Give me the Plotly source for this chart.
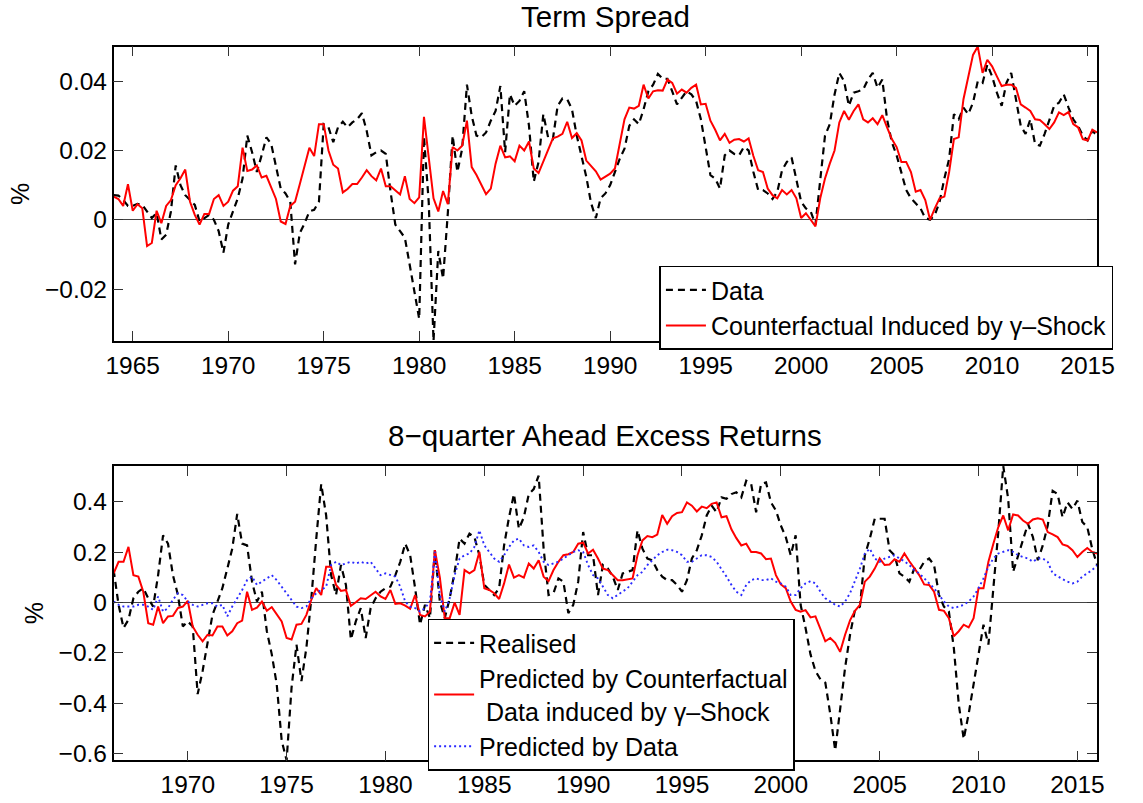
import numpy as np
import plotly.graph_objects as go

# ---------------- Term spread (quarterly, 1964Q1 - 2015Q3) ----------------
ts_start = 1964.0
term_spread_data = [
    0.0071, 0.0070, 0.0057, 0.0040,   # 1964
    0.0040, 0.0046, 0.0043, 0.0024,   # 1965
    0.0005, 0.0020, -0.0057, -0.0043, # 1966
    0.0024, 0.0157, 0.0100, 0.0071,   # 1967
    0.0057, 0.0043, -0.0005, 0.0005,  # 1968
    0.0014, 0.0000, -0.0033, -0.0095, # 1969
    -0.0014, 0.0024, 0.0062, 0.0119,  # 1970
    0.0243, 0.0195, 0.0138, 0.0186,   # 1971
    0.0238, 0.0219, 0.0157, 0.0090,   # 1972
    0.0076, 0.0052, -0.0129, -0.0038, # 1973
    -0.0010, 0.0024, 0.0029, 0.0052,  # 1974
    0.0276, 0.0267, 0.0224, 0.0267,   # 1975
    0.0283, 0.0267, 0.0281, 0.0290,   # 1976
    0.0308, 0.0257, 0.0186, 0.0195,   # 1977
    0.0200, 0.0190, 0.0081, -0.0014,  # 1978
    -0.0033, -0.0052, -0.0129, -0.0214, # 1979
    -0.0286, 0.0240, 0.0050, -0.0350, # 1980
    -0.0090, -0.0170, 0.0020, 0.0243, # 1981
    0.0138, 0.0205, 0.0390, 0.0300,   # 1982
    0.0243, 0.0238, 0.0252, 0.0286,   # 1983
    0.0314, 0.0386, 0.0195, 0.0362,   # 1984
    0.0329, 0.0343, 0.0371, 0.0271,   # 1985
    0.0110, 0.0167, 0.0305, 0.0238,   # 1986
    0.0233, 0.0329, 0.0350, 0.0348,   # 1987
    0.0319, 0.0243, 0.0186, 0.0124,   # 1988
    0.0048, 0.0005, 0.0062, 0.0076,   # 1989
    0.0100, 0.0138, 0.0176, 0.0205,   # 1990
    0.0271, 0.0290, 0.0276, 0.0319,   # 1991
    0.0371, 0.0390, 0.0421, 0.0407,   # 1992
    0.0407, 0.0371, 0.0333, 0.0352,   # 1993
    0.0371, 0.0362, 0.0343, 0.0290,   # 1994
    0.0214, 0.0129, 0.0119, 0.0090,   # 1995
    0.0186, 0.0200, 0.0190, 0.0186,   # 1996
    0.0210, 0.0200, 0.0138, 0.0086,   # 1997
    0.0086, 0.0076, 0.0060, 0.0080,   # 1998
    0.0143, 0.0167, 0.0180, 0.0119,   # 1999
    0.0052, 0.0033, 0.0024, -0.0014,  # 2000
    0.0110, 0.0243, 0.0276, 0.0362,   # 2001
    0.0424, 0.0400, 0.0329, 0.0367,   # 2002
    0.0371, 0.0376, 0.0405, 0.0424,   # 2003
    0.0381, 0.0405, 0.0290, 0.0224,   # 2004
    0.0186, 0.0138, 0.0086, 0.0062,   # 2005
    0.0048, 0.0033, 0.0005, 0.0000,   # 2006
    0.0014, 0.0052, 0.0119, 0.0176,   # 2007
    0.0305, 0.0290, 0.0324, 0.0305,   # 2008
    0.0338, 0.0400, 0.0395, 0.0448,   # 2009
    0.0414, 0.0367, 0.0329, 0.0395,   # 2010
    0.0424, 0.0352, 0.0271, 0.0248,   # 2011
    0.0290, 0.0219, 0.0214, 0.0248,   # 2012
    0.0286, 0.0329, 0.0338, 0.0362,   # 2013
    0.0324, 0.0290, 0.0271, 0.0243,   # 2014
    0.0229, 0.0257, 0.0243,           # 2015
]
term_spread_cf = [
    0.0067, 0.0060, 0.0040, 0.0103,   # 1964
    0.0026, 0.0045, 0.0033, -0.0076,  # 1965
    -0.0067, 0.0026, -0.0010, 0.0040, # 1966
    0.0057, 0.0100, 0.0120, 0.0145,   # 1967
    0.0052, 0.0014, -0.0014, 0.0017,  # 1968
    0.0017, 0.0060, 0.0071, 0.0040,   # 1969
    0.0052, 0.0084, 0.0097, 0.0208,   # 1970
    0.0141, 0.0145, 0.0157, 0.0122,   # 1971
    0.0127, 0.0095, 0.0060, -0.0005,  # 1972
    -0.0012, 0.0040, 0.0052, 0.0103,  # 1973
    0.0152, 0.0208, 0.0184, 0.0276,   # 1974
    0.0276, 0.0200, 0.0159, 0.0148,   # 1975
    0.0079, 0.0089, 0.0103, 0.0103,   # 1976
    0.0122, 0.0143, 0.0126, 0.0114,   # 1977
    0.0148, 0.0097, 0.0097, 0.0086,   # 1978
    0.0073, 0.0126, 0.0060, 0.0048,   # 1979
    0.0065, 0.0297, 0.0179, 0.0062,   # 1980
    0.0024, 0.0083, 0.0045, 0.0210,   # 1981
    0.0200, 0.0214, 0.0286, 0.0152,   # 1982
    0.0129, 0.0100, 0.0074, 0.0090,   # 1983
    0.0162, 0.0214, 0.0180, 0.0183,   # 1984
    0.0169, 0.0214, 0.0200, 0.0226,   # 1985
    0.0148, 0.0135, 0.0170, 0.0205,   # 1986
    0.0235, 0.0240, 0.0248, 0.0283,   # 1987
    0.0236, 0.0250, 0.0229, 0.0171,   # 1988
    0.0157, 0.0140, 0.0116, 0.0124,   # 1989
    0.0133, 0.0148, 0.0214, 0.0290,   # 1990
    0.0324, 0.0321, 0.0329, 0.0390,   # 1991
    0.0350, 0.0371, 0.0374, 0.0373,   # 1992
    0.0405, 0.0395, 0.0364, 0.0376,   # 1993
    0.0367, 0.0381, 0.0390, 0.0333,   # 1994
    0.0335, 0.0286, 0.0260, 0.0229,   # 1995
    0.0248, 0.0222, 0.0231, 0.0233,   # 1996
    0.0226, 0.0235, 0.0184, 0.0143,   # 1997
    0.0138, 0.0090, 0.0071, 0.0062,   # 1998
    0.0086, 0.0073, 0.0086, 0.0062,   # 1999
    0.0005, 0.0019, 0.0000, -0.0019,  # 2000
    0.0062, 0.0119, 0.0162, 0.0200,   # 2001
    0.0281, 0.0314, 0.0289, 0.0314,   # 2002
    0.0333, 0.0290, 0.0281, 0.0293,   # 2003
    0.0276, 0.0302, 0.0267, 0.0233,   # 2004
    0.0210, 0.0167, 0.0167, 0.0138,   # 2005
    0.0081, 0.0086, 0.0057, 0.0000,   # 2006
    0.0033, 0.0062, 0.0067, 0.0138,   # 2007
    0.0233, 0.0238, 0.0348, 0.0414,   # 2008
    0.0476, 0.0500, 0.0424, 0.0462,   # 2009
    0.0443, 0.0414, 0.0386, 0.0390,   # 2010
    0.0390, 0.0381, 0.0333, 0.0324,   # 2011
    0.0314, 0.0290, 0.0288, 0.0276,   # 2012
    0.0262, 0.0281, 0.0310, 0.0302,   # 2013
    0.0311, 0.0276, 0.0267, 0.0233,   # 2014
    0.0229, 0.0260, 0.0252,           # 2015
]

# ------------- 8-quarter ahead excess returns (1966Q2 - 2016Q1) -------------
er_start = 1966.25
excess_realised = [
    0.129, -0.009, -0.101,            # 1966
    -0.068, 0.017, 0.043, 0.057,      # 1967
    0.017, -0.016, 0.109, 0.267,      # 1968
    0.234, 0.109, 0.030, -0.095,      # 1969
    -0.075, -0.095, -0.364, -0.272,   # 1970
    -0.167, -0.049, 0.004, 0.057,     # 1971
    0.135, 0.214, 0.352, 0.234,       # 1972
    0.227, 0.083, 0.004, 0.043,       # 1973
    -0.114, -0.206, -0.325, -0.548,   # 1974
    -0.627, -0.338, -0.167, -0.312,   # 1975
    -0.180, 0.017, 0.254, 0.471,      # 1976
    0.346, 0.109, 0.030, 0.149,       # 1977
    0.070, -0.147, -0.075, -0.022,    # 1978
    -0.141, -0.022, 0.017, 0.043,     # 1979
    0.057, 0.063, 0.109, 0.162,       # 1980
    0.234, 0.188, 0.057, -0.088,      # 1981
    -0.009, -0.062, 0.208, 0.004,     # 1982
    -0.062, 0.017, 0.122, 0.254,      # 1983
    0.234, 0.274, 0.260, 0.188,       # 1984
    0.070, 0.050, 0.030, 0.057,       # 1985
    0.227, 0.339, 0.431, 0.293,       # 1986
    0.339, 0.431, 0.451, 0.504,       # 1987
    0.214, 0.030, 0.037, 0.096,       # 1988
    0.083, -0.042, -0.009, 0.083,     # 1989
    0.280, 0.188, 0.188, 0.030,       # 1990
    0.149, 0.135, 0.103, 0.050,       # 1991
    0.116, 0.122, 0.129, 0.287,       # 1992
    0.214, 0.175, 0.168, 0.129,       # 1993
    0.103, 0.089, 0.089, 0.070,       # 1994
    0.043, 0.089, 0.175, 0.208,       # 1995
    0.267, 0.346, 0.385, 0.359,       # 1996
    0.418, 0.412, 0.431, 0.438,       # 1997
    0.418, 0.484, 0.471, 0.359,       # 1998
    0.471, 0.477, 0.398, 0.366,       # 1999
    0.306, 0.260, 0.188, 0.267,       # 2000
    -0.009, -0.101, -0.206, -0.272,   # 2001
    -0.305, -0.318, -0.443, -0.588,   # 2002
    -0.417, -0.259, -0.128, -0.029,   # 2003
    -0.016, 0.188, 0.254, 0.333,      # 2004
    0.333, 0.333, 0.208, 0.188,       # 2005
    0.116, 0.103, 0.083, 0.135,       # 2006
    0.129, 0.162, 0.175, 0.149,       # 2007
    0.030, -0.016, -0.036, -0.180,    # 2008
    -0.404, -0.542, -0.443, -0.325,   # 2009
    -0.220, -0.088, -0.167, 0.057,    # 2010
    0.280, 0.543, 0.412, 0.122,       # 2011
    0.188, 0.254, 0.313, 0.260,       # 2012
    0.168, 0.227, 0.306, 0.444,       # 2013
    0.431, 0.339, 0.398, 0.372,       # 2014
    0.405, 0.320, 0.300, 0.214,       # 2015
    0.149,                            # 2016
]
excess_pred_cf = [
    0.116, 0.162, 0.162,              # 1966
    0.221, 0.109, 0.103, 0.043,       # 1967
    -0.082, -0.088, -0.016, -0.082,   # 1968
    -0.055, -0.053, -0.022, -0.016,   # 1969
    0.007, -0.095, -0.128, -0.154,    # 1970
    -0.128, -0.131, -0.095, -0.095,   # 1971
    -0.131, -0.114, -0.082, -0.072,   # 1972
    0.043, -0.029, -0.020, 0.004,     # 1973
    -0.033, -0.018, -0.049, -0.075,   # 1974
    -0.141, -0.147, -0.088, -0.085,   # 1975
    -0.049, 0.011, 0.057, 0.030,      # 1976
    0.142, 0.142, 0.070, 0.046,       # 1977
    0.050, -0.013, 0.001, 0.017,      # 1978
    0.014, 0.030, 0.043, 0.024,       # 1979
    0.014, 0.050, -0.005, -0.003,     # 1980
    -0.012, -0.025, 0.030, -0.049,    # 1981
    -0.055, -0.036, 0.208, 0.100,     # 1982
    -0.062, -0.062, 0.000, -0.049,    # 1983
    0.129, 0.116, 0.129, 0.201,       # 1984
    0.057, 0.050, 0.037, 0.014,       # 1985
    0.076, 0.151, 0.099, 0.109,       # 1986
    0.099, 0.155, 0.135, 0.168,       # 1987
    0.103, 0.085, 0.129, 0.162,       # 1988
    0.188, 0.192, 0.201, 0.234,       # 1989
    0.238, 0.195, 0.210, 0.175,       # 1990
    0.135, 0.129, 0.109, 0.089,       # 1991
    0.089, 0.093, 0.096, 0.188,       # 1992
    0.247, 0.264, 0.260, 0.270,       # 1993
    0.348, 0.313, 0.343, 0.356,       # 1994
    0.359, 0.398, 0.385, 0.362,       # 1995
    0.381, 0.375, 0.392, 0.398,       # 1996
    0.339, 0.343, 0.291, 0.256,       # 1997
    0.227, 0.234, 0.201, 0.201,       # 1998
    0.195, 0.172, 0.175, 0.109,       # 1999
    0.072, 0.057, 0.004, -0.029,      # 2000
    -0.036, -0.030, -0.059, -0.055,   # 2001
    -0.101, -0.154, -0.141, -0.160,   # 2002
    -0.196, -0.128, -0.071, -0.033,   # 2003
    -0.009, 0.083, 0.103, 0.135,      # 2004
    0.175, 0.149, 0.151, 0.172,       # 2005
    0.162, 0.195, 0.164, 0.135,       # 2006
    0.109, 0.072, 0.070, 0.043,       # 2007
    -0.029, -0.033, -0.062, -0.134,   # 2008
    -0.114, -0.088, -0.099, -0.062,   # 2009
    0.057, 0.057, 0.162, 0.234,       # 2010
    0.300, 0.346, 0.287, 0.350,       # 2011
    0.346, 0.326, 0.313, 0.330,       # 2012
    0.335, 0.330, 0.280, 0.271,       # 2013
    0.260, 0.231, 0.225, 0.208,       # 2014
    0.181, 0.201, 0.217, 0.201,       # 2015
    0.195,                            # 2016
]
excess_pred_data = [
    0.004, -0.009, -0.016,            # 1966
    -0.016, -0.016, -0.009, -0.009,   # 1967
    -0.016, -0.029, 0.024, -0.036,    # 1968
    -0.022, 0.011, 0.037, 0.030,      # 1969
    0.004, -0.009, -0.016, -0.009,    # 1970
    -0.003, -0.003, -0.016, -0.009,   # 1971
    -0.055, -0.016, 0.017, 0.050,     # 1972
    0.089, 0.103, 0.070, 0.083,       # 1973
    0.096, 0.109, 0.089, 0.063,       # 1974
    0.037, 0.011, -0.016, -0.022,     # 1975
    -0.016, 0.017, 0.037, 0.050,      # 1976
    0.063, 0.149, 0.162, 0.149,       # 1977
    0.155, 0.162, 0.155, 0.162,       # 1978
    0.155, 0.162, 0.135, 0.109,       # 1979
    0.116, 0.109, 0.103, 0.063,       # 1980
    0.004, -0.016, -0.022, -0.036,    # 1981
    -0.022, 0.004, 0.201, 0.030,      # 1982
    -0.036, 0.017, 0.109, 0.175,      # 1983
    0.188, 0.195, 0.221, 0.287,       # 1984
    0.227, 0.201, 0.175, 0.162,       # 1985
    0.188, 0.221, 0.247, 0.254,       # 1986
    0.227, 0.221, 0.227, 0.201,       # 1987
    0.162, 0.149, 0.155, 0.162,       # 1988
    0.175, 0.188, 0.201, 0.208,       # 1989
    0.201, 0.149, 0.109, 0.096,       # 1990
    0.063, 0.030, 0.017, 0.030,       # 1991
    0.043, 0.057, 0.083, 0.109,       # 1992
    0.122, 0.149, 0.168, 0.188,       # 1993
    0.201, 0.210, 0.208, 0.201,       # 1994
    0.188, 0.162, 0.162, 0.175,       # 1995
    0.188, 0.188, 0.181, 0.162,       # 1996
    0.135, 0.103, 0.070, 0.043,       # 1997
    0.030, 0.070, 0.089, 0.096,       # 1998
    0.089, 0.089, 0.096, 0.083,       # 1999
    0.076, 0.063, 0.030, 0.030,       # 2000
    0.057, 0.076, 0.085, 0.076,       # 2001
    0.043, 0.017, 0.004, -0.009,      # 2002
    -0.016, 0.004, 0.037, 0.083,      # 2003
    0.135, 0.195, 0.214, 0.175,       # 2004
    0.162, 0.175, 0.181, 0.188,       # 2005
    0.175, 0.164, 0.149, 0.129,       # 2006
    0.116, 0.096, 0.076, 0.057,       # 2007
    0.030, 0.004, -0.016, -0.022,     # 2008
    -0.016, -0.009, 0.004, 0.024,     # 2009
    0.057, 0.096, 0.142, 0.175,       # 2010
    0.195, 0.201, 0.208, 0.201,       # 2011
    0.188, 0.181, 0.175, 0.162,       # 2012
    0.175, 0.175, 0.162, 0.116,       # 2013
    0.103, 0.093, 0.083, 0.076,       # 2014
    0.083, 0.103, 0.116, 0.129,       # 2015
    0.149,                            # 2016
]

ts_dates = ts_start + 0.25 * np.arange(len(term_spread_data))
er_dates = er_start + 0.25 * np.arange(len(excess_realised))

FONT = "Liberation Sans, Arial, Helvetica, sans-serif"
W, H = 1143, 803

black_dash = dict(color="black", width=2.2, dash="7px,5px")
red_solid = dict(color="#ff0000", width=2)
blue_dot = dict(color="#2a2aff", width=1.9, dash="2px,3px")

fig = go.Figure()

# top panel
fig.add_trace(go.Scatter(x=ts_dates, y=term_spread_data, mode="lines", name="Data",
                         line=black_dash, xaxis="x", yaxis="y", legend="legend"))
fig.add_trace(go.Scatter(x=ts_dates, y=term_spread_cf, mode="lines",
                         name="Counterfactual Induced by γ–Shock",
                         line=red_solid, xaxis="x", yaxis="y", legend="legend"))

# bottom panel
fig.add_trace(go.Scatter(x=er_dates, y=excess_realised, mode="lines", name="Realised",
                         line=black_dash, xaxis="x2", yaxis="y2", legend="legend2"))
fig.add_trace(go.Scatter(x=er_dates, y=excess_pred_cf, mode="lines",
                         name="Predicted by Counterfactual<br> Data induced by γ–Shock",
                         line=red_solid, xaxis="x2", yaxis="y2", legend="legend2"))
fig.add_trace(go.Scatter(x=er_dates, y=excess_pred_data, mode="lines",
                         name="Predicted by Data",
                         line=blue_dot, xaxis="x2", yaxis="y2", legend="legend2"))

x_dom = [108 / W, 1113.5 / W]
top_dom = [1 - 344 / H, 1 - 47 / H]
bot_dom = [1 - 767 / H, 1 - 470 / H]

axis_common = dict(
    showline=True, linecolor="black", linewidth=1.5, mirror="allticks",
    ticks="inside", ticklen=10, tickwidth=1, tickcolor="#333",
    showgrid=False, tickfont=dict(family=FONT, size=24.5, color="black"),
)
ytitle = dict(text="%", font=dict(family=FONT, size=25), standoff=8)

fig.update_layout(
    width=W, height=H,
    margin=dict(l=0, r=0, t=0, b=0),
    paper_bgcolor="white", plot_bgcolor="white",
    font=dict(family=FONT, color="black"),
    xaxis=dict(domain=x_dom, anchor="y", range=[1964.0, 2015.5],
               tick0=1965, dtick=5, zeroline=False, ticklabelstandoff=2,
               **axis_common),
    yaxis=dict(domain=top_dom, anchor="x", range=[-0.035, 0.05],
               tick0=0, dtick=0.02, zeroline=True, zerolinecolor="#444",
               zerolinewidth=1, title=ytitle, **axis_common),
    xaxis2=dict(domain=x_dom, anchor="y2", range=[1966.25, 2016.0],
                tick0=1965, dtick=5, zeroline=False, ticklabelstandoff=2,
                **axis_common),
    yaxis2=dict(domain=bot_dom, anchor="x2", range=[-0.627, 0.543],
                tick0=0, dtick=0.2, zeroline=True, zerolinecolor="#444",
                zerolinewidth=1, title=ytitle, **axis_common),
    legend=dict(x=666 / W, y=1 - 268 / H, xanchor="left", yanchor="top",
                bordercolor="black", borderwidth=1.5, bgcolor="white",
                font=dict(family=FONT, size=25, color="black"),
                tracegroupgap=0, itemwidth=40),
    legend2=dict(x=429 / W, y=1 - 624 / H, xanchor="left", yanchor="top",
                 bordercolor="black", borderwidth=1.5, bgcolor="white",
                 font=dict(family=FONT, size=25, color="black"),
                 tracegroupgap=0, itemwidth=40),
    showlegend=True,
    annotations=[
        dict(text="Term Spread", x=(x_dom[0] + x_dom[1]) / 2, y=1 - 17 / H,
             xref="paper", yref="paper", xanchor="center", yanchor="middle",
             showarrow=False, font=dict(family=FONT, size=29.5, color="black")),
        dict(text="8−quarter Ahead Excess Returns", x=(x_dom[0] + x_dom[1]) / 2,
             y=1 - 439 / H, xref="paper", yref="paper", xanchor="center",
             yanchor="middle", showarrow=False,
             font=dict(family=FONT, size=29.5, color="black")),
    ],
)

fig.write_html("out.html")
